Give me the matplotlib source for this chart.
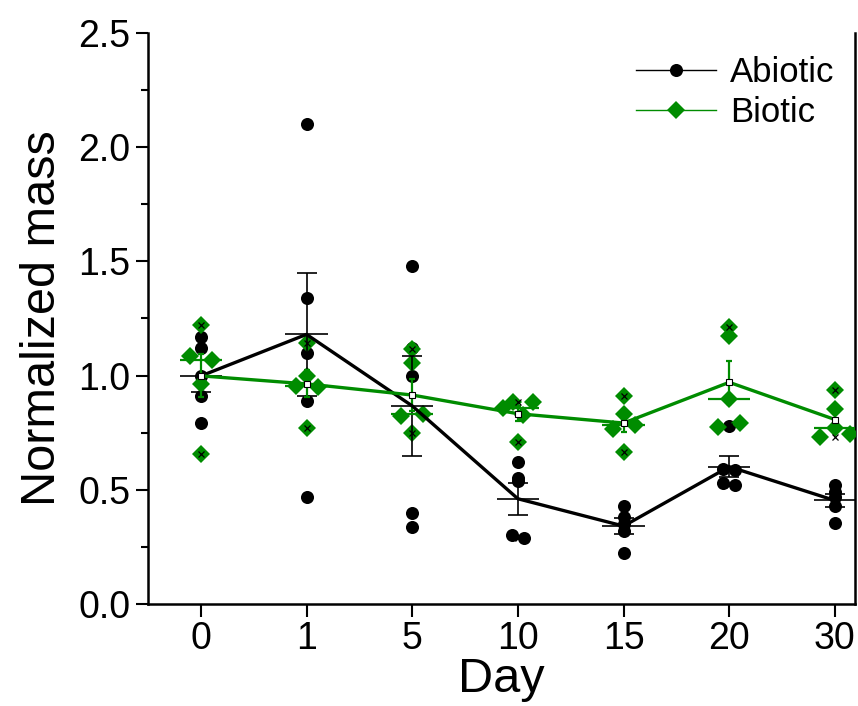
import numpy as np
import matplotlib
matplotlib.use("Agg")
import matplotlib.pyplot as plt
from matplotlib.lines import Line2D

plt.rcParams['font.family'] = ['Liberation Sans', 'DejaVu Sans']

# ------------------------------------------------------------------
# data
# ------------------------------------------------------------------
days = ['0', '1', '5', '10', '15', '20', '30']

abiotic = [
    [1.17, 1.12, 1.00, 0.91, 0.79],
    [2.10, 1.34, 1.10, 0.89, 0.47],
    [1.48, 1.12, 1.00, 0.40, 0.335],
    [0.62, 0.553, 0.54, 0.30, 0.29],
    [0.43, 0.38, 0.35, 0.32, 0.225],
    [0.78, 0.59, 0.585, 0.53, 0.52],
    [0.52, 0.49, 0.47, 0.43, 0.355],
]

biotic = [
    [1.22, 1.086, 1.068, 0.962, 0.657],
    [1.141, 0.998, 0.955, 0.951, 0.772],
    [1.115, 1.054, 0.825, 0.832, 0.747],
    [0.857, 0.882, 0.828, 0.886, 0.711],
    [0.911, 0.832, 0.766, 0.784, 0.667],
    [1.214, 1.173, 0.896, 0.774, 0.794],
    [0.937, 0.854, 0.730, 0.772, 0.744],
]

GREEN = '#008c00'


def spread(vals, thr, step, width):
    """points closer than thr are spread sideways, in data order"""
    vals = np.asarray(vals)
    order = np.argsort(vals)
    dx = np.zeros(len(vals))
    groups, cur = [], [order[0]]
    for a, b in zip(order[:-1], order[1:]):
        if vals[b] - vals[a] < thr:
            cur.append(b)
        else:
            groups.append(cur)
            cur = [b]
    groups.append(cur)
    for g in groups:
        n = len(g)
        if n < 2:
            continue
        s = min(step, width / (n - 1))
        for k, idx in enumerate(sorted(g)):
            dx[idx] = (k - (n - 1) / 2) * s
    return dx


fig = plt.figure(figsize=(8.58, 7.06), dpi=100)
ax = fig.add_axes([0.1725, 0.1445, 0.824, 0.809])

xs = np.arange(len(days))
ab_mean, ab_se, bi_mean, bi_se, bi_med = [], [], [], [], []

for i in xs:
    a = np.asarray(abiotic[i])
    b = np.asarray(biotic[i])
    ab_mean.append(a.mean())
    ab_se.append(a.std(ddof=1) / np.sqrt(len(a)))
    bi_mean.append(b.mean())
    bi_se.append(b.std(ddof=1) / np.sqrt(len(b)))
    bi_med.append(np.median(b))

    dxa = spread(a, 0.012, 0.11, 0.11)
    ax.plot(i + dxa, a, 'o', color='black', ms=9.4, mew=0, zorder=2)
    dxb = spread(b, 0.035, 0.208, 0.284)
    ax.plot(i + dxb, b, 'D', color=GREEN, ms=9.2, mew=0, zorder=3)

ab_mean = np.array(ab_mean)
bi_mean = np.array(bi_mean)

# error bars (mean +/- SE)
ax.errorbar(xs, ab_mean, yerr=ab_se, fmt='none', ecolor='black', elinewidth=1.2,
            capsize=7, capthick=1.2, zorder=4)
ax.errorbar(xs, bi_mean, yerr=bi_se, fmt='none', ecolor=GREEN, elinewidth=1.6,
            capsize=2, capthick=1.6, zorder=4)

# wide centre lines: mean for abiotic, median for biotic
ax.hlines(ab_mean, xs - 0.2, xs + 0.2, color='black', lw=1.2, zorder=4)
ax.hlines(bi_med, xs - 0.2, xs + 0.2, color=GREEN, lw=1.6, zorder=4)

# connecting lines through the means
ax.plot(xs, ab_mean, '-', color='black', lw=2.4, zorder=5)
ax.plot(xs, bi_mean, '-', color=GREEN, lw=2.4, zorder=5)

# min / max markers and mean square
for i in xs:
    ax.plot([i, i], [min(abiotic[i]), max(abiotic[i])], 'x', color='black', ms=4.5, mew=0.9,
            linestyle='none', zorder=6)
    ax.plot([i, i], [min(biotic[i]), max(biotic[i])], 'x', color='black', ms=4.5, mew=0.9,
            linestyle='none', zorder=6)
ax.plot(xs, bi_mean, 's', mfc='white', mec='black', ms=4.5, mew=0.8, linestyle='none', zorder=6)

ax.set_xlim(-0.5, 6.19)
ax.set_ylim(0, 2.5)
ax.set_xticks(xs)
ax.set_xticklabels(days)
ax.set_yticks(np.arange(0, 2.51, 0.5))
ax.set_yticks(np.arange(0.25, 2.5, 0.5), minor=True)
ax.tick_params(axis='both', which='major', labelsize=27, length=9, width=1.5, direction='out')
ax.tick_params(axis='y', which='minor', length=5, width=1.5, direction='out')
ax.set_xlabel('Day', fontsize=35, labelpad=0)
ax.set_ylabel('Normalized mass', fontsize=35, labelpad=10)
for side in ['left', 'bottom', 'right']:
    ax.spines[side].set_linewidth(1.8)
ax.spines['top'].set_visible(False)

handles = [
    Line2D([], [], color='black', lw=1, marker='o', ms=9.4, mew=0),
    Line2D([], [], color=GREEN, lw=1, marker='D', ms=9.2, mew=0),
]
ax.legend(handles, ['Abiotic', 'Biotic'], loc='upper right', frameon=False, fontsize=25,
          handlelength=2.3, handletextpad=0.4, labelspacing=0.2,
          borderaxespad=0.0, bbox_to_anchor=(0.99, 0.984))

fig.savefig('out.png', dpi=100)
